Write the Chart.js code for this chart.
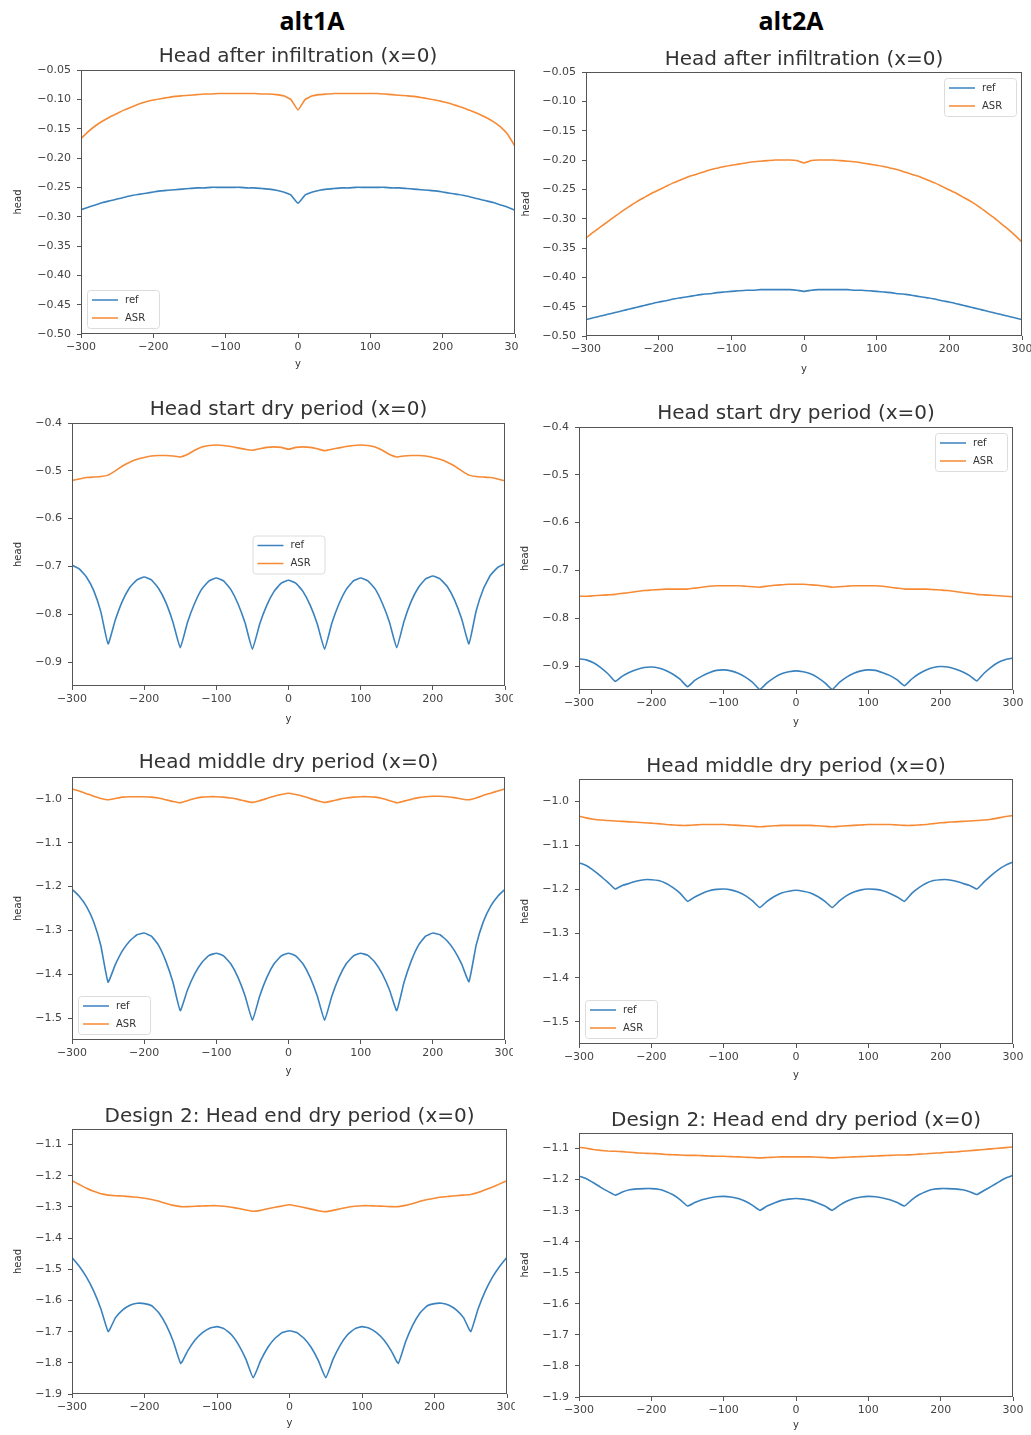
<!DOCTYPE html>
<html>
<head>
<meta charset="utf-8">
<script src="https://cdn.jsdelivr.net/npm/chart.js@4.4.1/dist/chart.umd.min.js"></script>
<style>
  html, body { margin: 0; padding: 0; background: #fff; }
  body { position: relative; width: 1031px; height: 1435px; overflow: hidden; }
  .colhead { position: absolute; top: 3px; width: 140px; text-align: center; font: bold 25px "Open Sans", sans-serif; color: #000; line-height: 34px; }
</style>
</head>
<body>
<div class="colhead" style="left:242px">alt1A</div>
<div class="colhead" style="left:721px">alt2A</div>
<script>
// horizontal position along the section (y), shared by every panel
const yPos = [-300, -290, -280, -270, -260, -250, -240, -230, -220, -210,
    -200, -190, -180, -170, -160, -150, -140, -130, -120, -110,
    -100, -90, -80, -70, -60, -50, -40, -30, -20, -10,
    0,
    10, 20, 30, 40, 50, 60, 70, 80, 90, 100,
    110, 120, 130, 140, 150, 160, 170, 180, 190, 200,
    210, 220, 230, 240, 250, 260, 270, 280, 290, 300]

const xTicks = [-300, -200, -100, 0, 100, 200, 300]
const yTicksInfil = [-0.50, -0.45, -0.40, -0.35, -0.30, -0.25, -0.20, -0.15, -0.10, -0.05]
const yTicksStart = [-0.9, -0.8, -0.7, -0.6, -0.5, -0.4]
const yTicksMiddle = [-1.5, -1.4, -1.3, -1.2, -1.1, -1.0]
const yTicksEnd = [-1.9, -1.8, -1.7, -1.6, -1.5, -1.4, -1.3, -1.2, -1.1]

// alt1A - head after infiltration
const ref1 = [-0.288, -0.284, -0.280, -0.276, -0.273, -0.270, -0.267, -0.264, -0.262, -0.260,
    -0.258, -0.256, -0.255, -0.254, -0.253, -0.252, -0.251, -0.251, -0.250, -0.250,
    -0.250, -0.250, -0.250, -0.251, -0.251, -0.252, -0.253, -0.255, -0.258, -0.263,
    -0.277,
    -0.263, -0.258, -0.255, -0.253, -0.252, -0.251, -0.251, -0.250, -0.250, -0.250,
    -0.250, -0.250, -0.251, -0.251, -0.252, -0.253, -0.254, -0.255, -0.256, -0.258,
    -0.260, -0.262, -0.264, -0.267, -0.270, -0.273, -0.276, -0.280, -0.284, -0.289]
const asr1 = [-0.167, -0.155, -0.145, -0.137, -0.130, -0.124, -0.118, -0.113, -0.108, -0.104,
    -0.101, -0.099, -0.097, -0.095, -0.094, -0.093, -0.092, -0.091, -0.091, -0.090,
    -0.090, -0.090, -0.090, -0.090, -0.090, -0.091, -0.091, -0.092, -0.094, -0.100,
    -0.118,
    -0.100, -0.094, -0.092, -0.091, -0.090, -0.090, -0.090, -0.090, -0.090, -0.090,
    -0.090, -0.091, -0.092, -0.093, -0.094, -0.095, -0.097, -0.099, -0.101, -0.104,
    -0.107, -0.111, -0.115, -0.120, -0.125, -0.131, -0.138, -0.147, -0.160, -0.180]

// alt2A - head after infiltration
const ref2 = [-0.472, -0.469, -0.466, -0.463, -0.460, -0.457, -0.454, -0.451, -0.448, -0.445,
    -0.442, -0.440, -0.437, -0.435, -0.433, -0.431, -0.429, -0.428, -0.426, -0.425,
    -0.424, -0.423, -0.422, -0.422, -0.421, -0.421, -0.421, -0.421, -0.421, -0.422,
    -0.424,
    -0.422, -0.421, -0.421, -0.421, -0.421, -0.421, -0.422, -0.422, -0.423, -0.424,
    -0.425, -0.426, -0.428, -0.429, -0.431, -0.433, -0.435, -0.437, -0.440, -0.442,
    -0.445, -0.448, -0.451, -0.454, -0.457, -0.460, -0.463, -0.466, -0.469, -0.472]
const asr2 = [-0.333, -0.323, -0.314, -0.305, -0.296, -0.287, -0.279, -0.271, -0.264, -0.257,
    -0.251, -0.245, -0.239, -0.234, -0.229, -0.225, -0.221, -0.217, -0.214, -0.211,
    -0.209, -0.207, -0.205, -0.203, -0.202, -0.201, -0.200, -0.200, -0.200, -0.201,
    -0.205,
    -0.201, -0.200, -0.200, -0.200, -0.201, -0.202, -0.203, -0.205, -0.207, -0.209,
    -0.211, -0.214, -0.217, -0.221, -0.225, -0.229, -0.234, -0.239, -0.245, -0.251,
    -0.257, -0.264, -0.271, -0.279, -0.288, -0.297, -0.307, -0.317, -0.328, -0.340]

// alt1A - head start dry period
const ref3 = [-0.697, -0.705, -0.722, -0.750, -0.795, -0.862, -0.812, -0.772, -0.744, -0.728,
    -0.722, -0.728, -0.746, -0.775, -0.817, -0.870, -0.817, -0.777, -0.747, -0.730,
    -0.724, -0.730, -0.748, -0.778, -0.819, -0.873, -0.821, -0.781, -0.752, -0.735,
    -0.729,
    -0.735, -0.752, -0.781, -0.821, -0.873, -0.819, -0.778, -0.748, -0.730, -0.724,
    -0.730, -0.747, -0.777, -0.817, -0.870, -0.815, -0.773, -0.744, -0.726, -0.720,
    -0.726, -0.742, -0.770, -0.810, -0.862, -0.793, -0.747, -0.718, -0.702, -0.694]
const asr3 = [-0.520, -0.517, -0.514, -0.513, -0.512, -0.509, -0.500, -0.490, -0.482, -0.476,
    -0.472, -0.469, -0.468, -0.468, -0.469, -0.471, -0.466, -0.457, -0.450, -0.447,
    -0.446, -0.447, -0.449, -0.452, -0.455, -0.457, -0.454, -0.451, -0.450, -0.451,
    -0.455,
    -0.451, -0.450, -0.451, -0.454, -0.458, -0.455, -0.452, -0.449, -0.447, -0.446,
    -0.447, -0.450, -0.457, -0.466, -0.471, -0.469, -0.468, -0.468, -0.469, -0.472,
    -0.476, -0.482, -0.490, -0.500, -0.509, -0.512, -0.513, -0.514, -0.517, -0.521]

// alt2A - head start dry period
const ref4 = [-0.885, -0.887, -0.893, -0.903, -0.916, -0.932, -0.921, -0.913, -0.907, -0.903,
    -0.902, -0.904, -0.909, -0.917, -0.928, -0.943, -0.930, -0.921, -0.914, -0.909,
    -0.908, -0.910, -0.915, -0.923, -0.934, -0.949, -0.935, -0.924, -0.916, -0.912,
    -0.910,
    -0.912, -0.916, -0.924, -0.935, -0.949, -0.934, -0.923, -0.915, -0.910, -0.908,
    -0.909, -0.914, -0.920, -0.929, -0.941, -0.927, -0.916, -0.908, -0.903, -0.901,
    -0.902, -0.906, -0.912, -0.920, -0.931, -0.915, -0.902, -0.892, -0.886, -0.883]
const asr4 = [-0.754, -0.754, -0.753, -0.752, -0.751, -0.750, -0.748, -0.746, -0.744, -0.742,
    -0.741, -0.740, -0.739, -0.739, -0.739, -0.739, -0.737, -0.735, -0.733, -0.732,
    -0.732, -0.732, -0.732, -0.733, -0.734, -0.735, -0.733, -0.731, -0.730, -0.729,
    -0.729,
    -0.729, -0.730, -0.731, -0.733, -0.735, -0.734, -0.733, -0.732, -0.732, -0.732,
    -0.732, -0.733, -0.735, -0.737, -0.739, -0.739, -0.739, -0.739, -0.740, -0.741,
    -0.742, -0.744, -0.746, -0.748, -0.750, -0.751, -0.752, -0.753, -0.754, -0.755]

// alt1A - head middle dry period
const ref5 = [-1.206, -1.222, -1.245, -1.280, -1.335, -1.418, -1.378, -1.346, -1.324, -1.310,
    -1.306, -1.313, -1.334, -1.370, -1.419, -1.483, -1.436, -1.399, -1.373, -1.357,
    -1.352, -1.358, -1.376, -1.407, -1.450, -1.505, -1.450, -1.407, -1.376, -1.358,
    -1.352,
    -1.358, -1.376, -1.407, -1.450, -1.505, -1.450, -1.407, -1.376, -1.358, -1.352,
    -1.357, -1.373, -1.399, -1.436, -1.483, -1.419, -1.370, -1.334, -1.313, -1.306,
    -1.310, -1.324, -1.346, -1.377, -1.417, -1.334, -1.280, -1.245, -1.222, -1.206]
const asr5 = [-0.977, -0.982, -0.988, -0.994, -0.999, -1.002, -0.999, -0.996, -0.995, -0.995,
    -0.995, -0.996, -0.998, -1.002, -1.006, -1.009, -1.004, -0.999, -0.996, -0.995,
    -0.995, -0.996, -0.998, -1.001, -1.005, -1.008, -1.004, -0.999, -0.994, -0.990,
    -0.987,
    -0.990, -0.994, -0.999, -1.004, -1.008, -1.005, -1.001, -0.998, -0.996, -0.995,
    -0.995, -0.996, -0.999, -1.004, -1.009, -1.005, -1.001, -0.997, -0.995, -0.994,
    -0.994, -0.995, -0.997, -1.000, -1.002, -0.998, -0.992, -0.987, -0.982, -0.977]

// alt2A - head middle dry period
const ref6 = [-1.140, -1.146, -1.157, -1.170, -1.184, -1.199, -1.191, -1.186, -1.181, -1.178,
    -1.178, -1.180, -1.186, -1.196, -1.209, -1.227, -1.217, -1.209, -1.203, -1.200,
    -1.199, -1.201, -1.206, -1.214, -1.226, -1.241, -1.227, -1.216, -1.208, -1.204,
    -1.202,
    -1.204, -1.208, -1.216, -1.227, -1.241, -1.226, -1.214, -1.206, -1.201, -1.199,
    -1.200, -1.203, -1.209, -1.217, -1.227, -1.209, -1.196, -1.186, -1.180, -1.178,
    -1.178, -1.181, -1.186, -1.191, -1.199, -1.183, -1.168, -1.155, -1.145, -1.138]
const asr6 = [-1.034, -1.038, -1.041, -1.043, -1.044, -1.045, -1.046, -1.047, -1.048, -1.049,
    -1.050, -1.051, -1.053, -1.054, -1.055, -1.055, -1.054, -1.053, -1.053, -1.053,
    -1.053, -1.054, -1.055, -1.056, -1.057, -1.058, -1.057, -1.056, -1.055, -1.055,
    -1.055,
    -1.055, -1.055, -1.056, -1.057, -1.058, -1.057, -1.056, -1.055, -1.054, -1.053,
    -1.053, -1.053, -1.053, -1.054, -1.055, -1.055, -1.054, -1.053, -1.051, -1.049,
    -1.048, -1.047, -1.046, -1.045, -1.044, -1.043, -1.041, -1.038, -1.035, -1.033]

// alt1A - design 2, head end dry period
const ref7 = [-1.462, -1.490, -1.525, -1.570, -1.628, -1.700, -1.655, -1.630, -1.615, -1.609,
    -1.610, -1.617, -1.640, -1.679, -1.733, -1.802, -1.760, -1.726, -1.703, -1.689,
    -1.684, -1.691, -1.710, -1.743, -1.789, -1.848, -1.794, -1.751, -1.721, -1.703,
    -1.697,
    -1.703, -1.721, -1.751, -1.794, -1.848, -1.789, -1.743, -1.710, -1.691, -1.684,
    -1.689, -1.703, -1.726, -1.760, -1.802, -1.733, -1.679, -1.640, -1.617, -1.610,
    -1.609, -1.615, -1.630, -1.655, -1.700, -1.628, -1.570, -1.525, -1.490, -1.461]
const asr7 = [-1.216, -1.228, -1.240, -1.250, -1.258, -1.262, -1.264, -1.265, -1.267, -1.269,
    -1.272, -1.276, -1.282, -1.289, -1.295, -1.299, -1.299, -1.298, -1.297, -1.296,
    -1.296, -1.298, -1.301, -1.305, -1.310, -1.314, -1.311, -1.306, -1.301, -1.297,
    -1.293,
    -1.297, -1.302, -1.307, -1.312, -1.315, -1.311, -1.306, -1.301, -1.298, -1.296,
    -1.296, -1.297, -1.298, -1.299, -1.299, -1.295, -1.289, -1.282, -1.276, -1.272,
    -1.268, -1.266, -1.264, -1.262, -1.260, -1.254, -1.245, -1.236, -1.226, -1.216]

// alt2A - design 2, head end dry period
const ref8 = [-1.189, -1.197, -1.210, -1.225, -1.238, -1.250, -1.240, -1.233, -1.230, -1.229,
    -1.229, -1.231, -1.238, -1.249, -1.265, -1.285, -1.274, -1.265, -1.259, -1.255,
    -1.254, -1.256, -1.261, -1.270, -1.283, -1.299, -1.285, -1.275, -1.267, -1.263,
    -1.261,
    -1.263, -1.267, -1.275, -1.285, -1.299, -1.283, -1.270, -1.261, -1.256, -1.254,
    -1.255, -1.259, -1.265, -1.274, -1.285, -1.265, -1.249, -1.238, -1.231, -1.229,
    -1.229, -1.230, -1.233, -1.239, -1.248, -1.235, -1.222, -1.208, -1.195, -1.186]
const asr8 = [-1.096, -1.099, -1.103, -1.106, -1.108, -1.109, -1.110, -1.112, -1.114, -1.115,
    -1.116, -1.117, -1.119, -1.120, -1.121, -1.122, -1.122, -1.123, -1.124, -1.125,
    -1.125, -1.126, -1.127, -1.128, -1.129, -1.130, -1.129, -1.128, -1.127, -1.127,
    -1.127,
    -1.127, -1.127, -1.128, -1.129, -1.130, -1.129, -1.128, -1.127, -1.126, -1.125,
    -1.124, -1.123, -1.122, -1.121, -1.121, -1.120, -1.118, -1.117, -1.115, -1.114,
    -1.112, -1.111, -1.109, -1.107, -1.105, -1.103, -1.101, -1.099, -1.097, -1.095]

const BLUE = '#3a82be'
const ORANGE = '#f68a35'
const FONT = '"DejaVu Sans", sans-serif'

// box = canvas extent on the page, plot = axes rectangle on the page
const panels = [
    {box: {l: 12, t: 40, r: 518, b: 370}, plot: {l: 81, t: 70, r: 515, b: 334}, titleY: 57,
        title: 'Head after infiltration (x=0)', yMin: -0.50, yMax: -0.05, ticks: yTicksInfil, dec: 2,
        legend: 'lower left', ref: ref1, asr: asr1},
    {box: {l: 520, t: 40, r: 1031, b: 375}, plot: {l: 586, t: 72, r: 1022, b: 336}, titleY: 60,
        title: 'Head after infiltration (x=0)', yMin: -0.50, yMax: -0.05, ticks: yTicksInfil, dec: 2,
        legend: 'upper right', ref: ref2, asr: asr2},
    {box: {l: 12, t: 392, r: 513, b: 725}, plot: {l: 72, t: 423, r: 505, b: 686}, titleY: 410,
        title: 'Head start dry period (x=0)', yMin: -0.95, yMax: -0.4, ticks: yTicksStart, dec: 1,
        legend: 'center', ref: ref3, asr: asr3},
    {box: {l: 519, t: 392, r: 1031, b: 728}, plot: {l: 579, t: 427, r: 1013, b: 690}, titleY: 414,
        title: 'Head start dry period (x=0)', yMin: -0.95, yMax: -0.4, ticks: yTicksStart, dec: 1,
        legend: 'upper right', ref: ref4, asr: asr4},
    {box: {l: 12, t: 742, r: 513, b: 1077}, plot: {l: 72, t: 777, r: 505, b: 1040}, titleY: 763,
        title: 'Head middle dry period (x=0)', yMin: -1.55, yMax: -0.95, ticks: yTicksMiddle, dec: 1,
        legend: 'lower left', ref: ref5, asr: asr5},
    {box: {l: 519, t: 742, r: 1031, b: 1081}, plot: {l: 579, t: 779, r: 1013, b: 1044}, titleY: 767,
        title: 'Head middle dry period (x=0)', yMin: -1.55, yMax: -0.95, ticks: yTicksMiddle, dec: 1,
        legend: 'lower left', ref: ref6, asr: asr6},
    {box: {l: 12, t: 1095, r: 515, b: 1429}, plot: {l: 72, t: 1129, r: 507, b: 1394}, titleY: 1117,
        title: 'Design 2: Head end dry period (x=0)', yMin: -1.9, yMax: -1.05, ticks: yTicksEnd, dec: 1,
        legend: null, ref: ref7, asr: asr7},
    {box: {l: 519, t: 1095, r: 1031, b: 1431}, plot: {l: 579, t: 1133, r: 1013, b: 1397}, titleY: 1121,
        title: 'Design 2: Head end dry period (x=0)', yMin: -1.9, yMax: -1.05, ticks: yTicksEnd, dec: 1,
        legend: null, ref: ref8, asr: asr8}
]

const minusFmt = (v, dec) => (v < 0 ? '\u2212' : '') + Math.abs(v).toFixed(dec)

// axes frame, title and a matplotlib-like legend box
const panelDecor = {
    id: 'panelDecor',
    afterDraw(chart, args, opts) {
        const {ctx, chartArea: a} = chart
        ctx.save()
        ctx.strokeStyle = '#555'
        ctx.lineWidth = 1
        ctx.strokeRect(Math.round(a.left) + 0.5, Math.round(a.top) + 0.5,
            Math.round(a.width) - 1, Math.round(a.height) - 1)

        ctx.fillStyle = '#333'
        ctx.font = '20px ' + FONT
        ctx.textAlign = 'center'
        ctx.textBaseline = 'middle'
        ctx.fillText(opts.title, (a.left + a.right) / 2, opts.titleY)

        if (opts.legend) {
            const lw = 72, lh = 38
            let lx, ly
            if (opts.legend === 'lower left') {
                lx = a.left + 6; ly = a.bottom - 6 - lh
            } else if (opts.legend === 'upper right') {
                lx = a.right - 6 - lw; ly = a.top + 6
            } else {
                lx = (a.left + a.right) / 2 - lw / 2; ly = (a.top + a.bottom) / 2 - lh / 2
            }
            ctx.beginPath()
            ctx.roundRect(lx + 0.5, ly + 0.5, lw, lh, 3)
            ctx.fillStyle = 'rgba(255,255,255,0.8)'
            ctx.fill()
            ctx.strokeStyle = '#dcdcdc'
            ctx.stroke()
            ctx.font = '10px ' + FONT
            ctx.textAlign = 'left'
            chart.data.datasets.forEach((ds, i) => {
                const yy = ly + 10 + i * 18
                ctx.beginPath()
                ctx.moveTo(lx + 5, yy)
                ctx.lineTo(lx + 31, yy)
                ctx.strokeStyle = ds.borderColor
                ctx.lineWidth = 1.5
                ctx.stroke()
                ctx.fillStyle = '#333'
                ctx.fillText(ds.label, lx + 38, yy)
            })
        }
        ctx.restore()
    }
}

function createPanel(p) {
    const w = p.box.r - p.box.l
    const h = p.box.b - p.box.t
    const canvas = document.createElement('canvas')
    canvas.width = w
    canvas.height = h
    canvas.style.cssText = `position:absolute;left:${p.box.l}px;top:${p.box.t}px;width:${w}px;height:${h}px`
    document.body.appendChild(canvas)

    const yAxisWidth = p.plot.l - p.box.l
    const xAxisHeight = p.box.b - p.plot.b
    const tickFont = {family: FONT, size: 11}
    const labelFont = {family: FONT, size: 10}

    const config = {
        type: 'line',
        plugins: [panelDecor],
        data: {
            datasets: [
                {label: 'ref', data: yPos.map((y, i) => ({x: y, y: p.ref[i]})), borderColor: BLUE},
                {label: 'ASR', data: yPos.map((y, i) => ({x: y, y: p.asr[i]})), borderColor: ORANGE}
            ]
        },
        options: {
            responsive: false,
            animation: false,
            devicePixelRatio: 1,
            layout: {
                autoPadding: false,
                padding: {top: p.plot.t - p.box.t, right: p.box.r - p.plot.r, bottom: 0, left: 0}
            },
            elements: {
                line: {borderWidth: 1.6, tension: 0.12},
                point: {radius: 0}
            },
            scales: {
                x: {
                    type: 'linear',
                    min: -300,
                    max: 300,
                    afterBuildTicks: scale => { scale.ticks = xTicks.map(v => ({value: v})) },
                    afterFit: scale => {
                        scale.height = xAxisHeight
                        scale.paddingLeft = 0
                        scale.paddingRight = 0
                    },
                    ticks: {color: '#444', font: tickFont, padding: 3, maxRotation: 0,
                        callback: v => minusFmt(v, 0)},
                    grid: {drawOnChartArea: false, drawTicks: true, tickLength: 4, color: '#555'},
                    border: {display: false},
                    title: {display: true, text: 'y', color: '#333', font: labelFont, padding: 0}
                },
                y: {
                    type: 'linear',
                    min: p.yMin,
                    max: p.yMax,
                    afterBuildTicks: scale => { scale.ticks = p.ticks.map(v => ({value: v})) },
                    afterFit: scale => {
                        scale.width = yAxisWidth
                        scale.paddingTop = 0
                        scale.paddingBottom = 0
                    },
                    ticks: {color: '#444', font: tickFont, padding: 6,
                        callback: v => minusFmt(v, p.dec)},
                    grid: {drawOnChartArea: false, drawTicks: true, tickLength: 4, color: '#555'},
                    border: {display: false},
                    title: {display: true, text: 'head', color: '#333', font: labelFont, padding: 0}
                }
            },
            plugins: {
                legend: {display: false},
                tooltip: {enabled: false},
                panelDecor: {title: p.title, titleY: p.titleY - p.box.t, legend: p.legend}
            }
        }
    }
    new Chart(canvas, config)
}

panels.forEach(createPanel)
</script>
</body>
</html>
